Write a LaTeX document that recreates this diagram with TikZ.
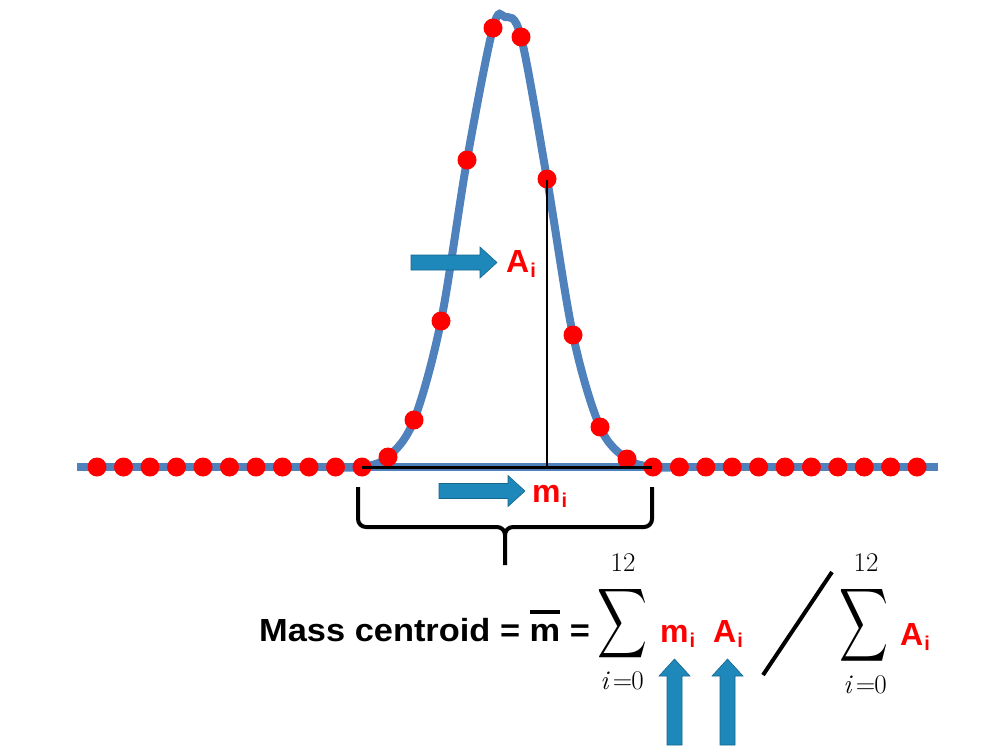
\documentclass[tikz,border=0pt]{standalone}
\usepackage{fontspec}
\setsansfont{Liberation Sans}
\definecolor{curveblue}{HTML}{4F81BD}
\definecolor{dotred}{HTML}{FF0000}
\definecolor{arrowblue}{HTML}{1E88BA}
\definecolor{arrowedge}{HTML}{16678F}
\newcommand\subi[1]{#1\kern1pt\raisebox{-5pt}{\fontsize{20}{20}\selectfont i}}
\newcommand\mbar{{\setbox0\hbox{m}\rlap{\rule[27pt]{\wd0}{4pt}}\box0}}
\newcommand\lowlim{{\itshape i}\,=\kern-1pt0}
\begin{document}
\begin{tikzpicture}[x=1pt,y=-1pt,
  curve/.style={draw=curveblue, line width=8pt},
  dot/.style={fill=dotred},
  thinblack/.style={draw=black, line width=2pt},
  thickblack/.style={draw=black, line width=3pt},
  bracestyle/.style={draw=black, line width=4pt},
  lab/.style={font=\sffamily\bfseries\fontsize{32}{38}\selectfont, inner sep=0pt, anchor=base west},
  redlab/.style={lab, text=dotred},
  fatarrow/.style={fill=arrowblue, draw=arrowedge, line width=0.6pt},
  mathlab/.style={font=\fontsize{27}{30}\selectfont, inner sep=0pt},
  fatarr/.pic={\fill[fatarrow] (0,0) -- (-17,-15.5) -- (-17,-7.5) -- (-86,-7.5) -- (-86,7.5) -- (-17,7.5) -- (-17,15.5) -- cycle;}]
\useasboundingbox (0,0) rectangle (1000,750);
% baseline and hump
\draw[curve] (77,467) -- (938,467);
\draw[curve] plot[smooth, tension=0.55] coordinates {(330,467) (362,467) (388,457) (414,420) (441,321) (467,160) (493,28) (505,17) (521,37) (547,179) (573,335) (600,427) (627,459) (653,467) (685,467)};
% dots
\foreach \k in {0,...,10} {
  \fill[dot] (97+26.5*\k,467) circle (9.5);
  \fill[dot] (653+26.4*\k,467) circle (9.5);
}
\foreach \x/\y in {388/457, 414/420, 441/321, 467/160, 493/28, 521/37, 547/179, 573/335, 600/427, 627/459} {
  \fill[dot] (\x,\y) circle (9.5);
}
% black lines
\coordinate (hl) at (362,467);
\coordinate (hr) at (652,467);
\coordinate (top) at (547,180);
\coordinate (foot) at (547,467);
\draw[thickblack] (hl) -- (hr);
\draw[thinblack] (top) -- (foot);
% bracket
\draw[bracestyle] (358,487) -- (358,519) to[out=-90,in=180] (366,527) -- (497,527) to[out=0,in=90] (505,535) -- (505,565);
\draw[bracestyle] (652,487) -- (652,519) to[out=-90,in=0] (644,527) -- (513,527) to[out=180,in=90] (505,535);
% arrows
\pic at (497,262.5) {fatarr};
\pic at (525,491) {fatarr};
\pic[rotate=90] at (674.5,659) {fatarr};
\pic[rotate=90] at (727.5,659) {fatarr};
% labels
\node[redlab] (Atop) at (506,272) {\subi{A}};
\node[redlab] (mmid) at (532,502) {\subi{m}};
% formula
\node[lab] (mc) at (259,641) {\scalebox{1.075}[1]{Mass centroid = \mbar\ =}};
\node[inner sep=0pt] (s1) at (622,624) {\resizebox*{50pt}{78pt}{$\displaystyle\sum$}};
\node[mathlab] (s1top) at (623,563) {12};
\node[mathlab] (s1bot) at (622,681) {\lowlim};
\node[redlab] (mf) at (660,642) {\subi{m}};
\node[redlab] (af) at (713,642) {\subi{A}};
\coordinate (sla) at (763,675);
\coordinate (slb) at (832,572);
\draw[bracestyle] (sla) -- (slb);
\node[inner sep=0pt] (s2) at (864,625) {\resizebox*{49pt}{82pt}{$\displaystyle\sum$}};
\node[mathlab] (s2top) at (866,563) {12};
\node[mathlab] (s2bot) at (865,685) {\lowlim};
\node[redlab] (af2) at (900,645) {\subi{A}};
\end{tikzpicture}
\end{document}
